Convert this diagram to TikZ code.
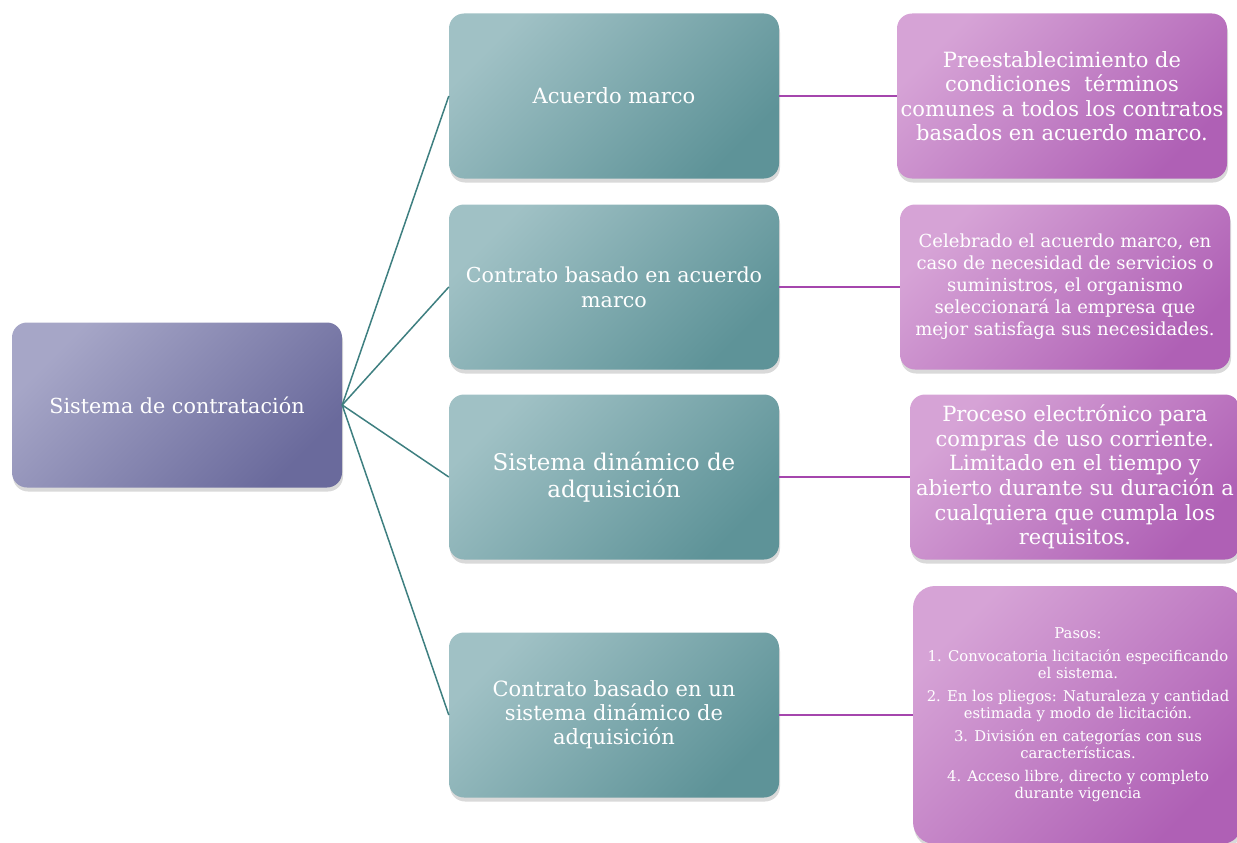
\documentclass[tikz,border=0pt]{standalone}
\usepackage{fontspec}
\setmainfont{DejaVu Serif}
\usetikzlibrary{shadows}
\definecolor{rootA}{HTML}{A6A6C7}
\definecolor{rootB}{HTML}{6A6A9C}
\definecolor{midA}{HTML}{A0C1C5}
\definecolor{midB}{HTML}{5E9398}
\definecolor{infoA}{HTML}{D6A3D6}
\definecolor{infoB}{HTML}{AF60B5}
\definecolor{tealline}{HTML}{3E7F80}
\definecolor{plumline}{HTML}{A546AD}
\tikzset{
  box/.style={rectangle, rounded corners=15pt, minimum width=330pt,
    minimum height=165pt, inner sep=0pt, align=center, text=white,
    drop shadow={shadow xshift=1pt, shadow yshift=-4pt, opacity=.3}},
  rootbox/.style={box, left color=rootA, right color=rootB, shading angle=45},
  midbox/.style={box, left color=midA, right color=midB, shading angle=45},
  infobox/.style={box, left color=infoA, right color=infoB, shading angle=45},
  tealedge/.style={draw=tealline, line width=1.5pt},
  plumedge/.style={draw=plumline, line width=1.5pt}
}
\begin{document}
\begin{tikzpicture}[x=1pt, y=-1pt]
  \path[use as bounding box, clip] (0,0) rectangle (1237,843);
  \node[rootbox, font=\fontsize{20.7}{25}\selectfont] (root) at (177,405) {Sistema de contratación};
  \node[midbox, font=\fontsize{21}{25}\selectfont] (acuerdo) at (614,96) {Acuerdo marco};
  \node[midbox, font=\fontsize{20.6}{25}\selectfont] (basado) at (614,287) {Contrato basado en acuerdo\\marco};
  \node[midbox, font=\fontsize{23}{27}\selectfont] (dinamico) at (614,477) {Sistema dinámico de\\adquisición};
  \node[midbox, font=\fontsize{21}{24}\selectfont] (basadosda) at (614,715) {Contrato basado en un\\sistema dinámico de\\adquisición};
  \node[infobox, font=\fontsize{21}{24.5}\selectfont] (preest) at (1062,96) {Preestablecimiento de\\condiciones\ \ términos\\comunes a todos los contratos\\basados en acuerdo marco.};
  \node[infobox, font=\fontsize{18}{22}\selectfont] (celebrado) at (1065,287) {Celebrado el acuerdo marco, en\\caso de necesidad de servicios o\\suministros, el organismo\\seleccionará la empresa que\\mejor satisfaga sus necesidades.};
  \node[infobox, font=\fontsize{21}{24.6}\selectfont] (proceso) at (1075,477) {Proceso electrónico para\\compras de uso corriente.\\Limitado en el tiempo y\\abierto durante su duración a\\cualquiera que cumpla los\\requisitos.};
  \node[infobox, rounded corners=22pt, minimum height=258pt, font=\fontsize{14.8}{17}\selectfont] (pasos) at (1078,715) {Pasos:\\[6pt]1. Convocatoria licitación especificando\\el sistema.\\[6pt]2. En los pliegos: Naturaleza y cantidad\\estimada y modo de licitación.\\[6pt]3. División en categorías con sus\\características.\\[6pt]4. Acceso libre, directo y completo\\durante vigencia};
  \draw[tealedge] (root.east) -- (acuerdo.west);
  \draw[tealedge] (root.east) -- (basado.west);
  \draw[tealedge] (root.east) -- (dinamico.west);
  \draw[tealedge] (root.east) -- (basadosda.west);
  \draw[plumedge] (acuerdo.east) -- (preest.west);
  \draw[plumedge] (basado.east) -- (celebrado.west);
  \draw[plumedge] (dinamico.east) -- (proceso.west);
  \draw[plumedge] (basadosda.east) -- (pasos.west);
\end{tikzpicture}
\end{document}
